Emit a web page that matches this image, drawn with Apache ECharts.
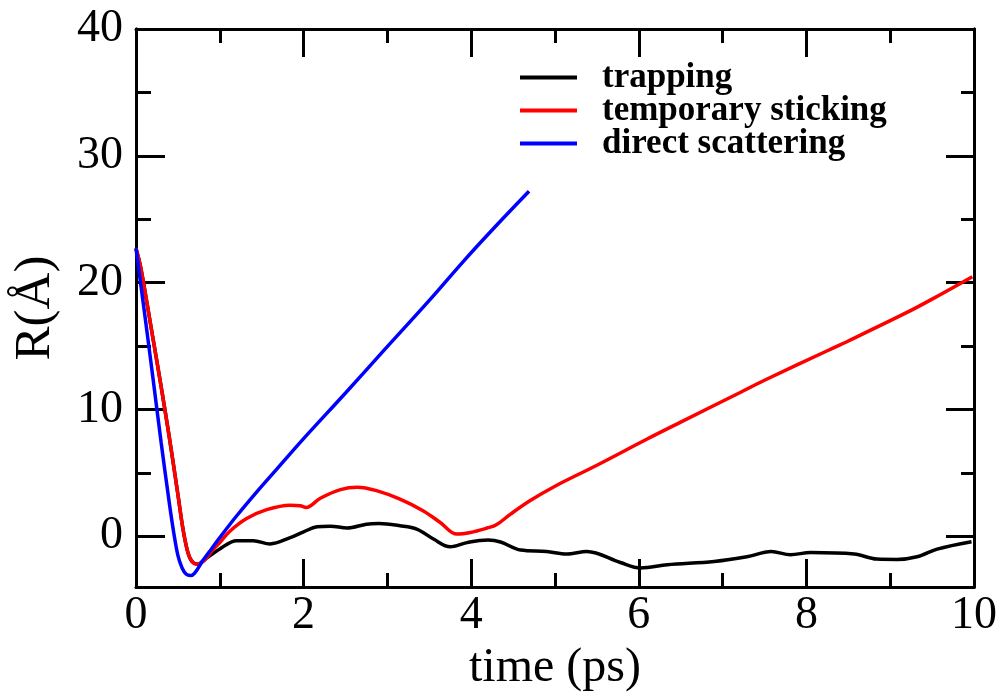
<!DOCTYPE html>
<html>
<head>
<meta charset="utf-8">
<script src="https://cdn.jsdelivr.net/npm/echarts@6/dist/echarts.min.js"></script>
<style>html,body{margin:0;padding:0;background:#fff}#c{width:1004px;height:698px}</style>
</head>
<body>
<div id="c"></div>
<script>
// ---- data (time in ps, R in Å) ----
const seriesNames = ['trapping', 'temporary sticking', 'direct scattering'];
const trapT = [0, 0.05, 0.1, 0.2, 0.3, 0.4, 0.5, 0.56, 0.62, 0.67, 0.74, 0.8, 1.0, 1.2, 1.4, 1.6, 1.84, 2.0, 2.16, 2.32, 2.52, 2.75, 2.9, 3.15, 3.35, 3.55, 3.75, 3.95, 4.2, 4.35, 4.59, 4.9, 5.14, 5.38, 5.78, 6.02, 6.34, 6.9, 7.29, 7.58, 7.81, 8.05, 8.57, 8.84, 9.08, 9.32, 9.56, 9.97];
const trapR = [22.7, 21.4, 19.6, 15.7, 11.8, 7.7, 3.3, 0.6, -1.3, -2.0, -2.2, -1.93, -1.0, -0.35, -0.35, -0.6, -0.1, 0.35, 0.75, 0.8, 0.65, 0.95, 1.0, 0.83, 0.57, -0.22, -0.83, -0.5, -0.3, -0.45, -1.09, -1.2, -1.4, -1.2, -2.07, -2.5, -2.25, -1.99, -1.62, -1.2, -1.46, -1.28, -1.4, -1.8, -1.83, -1.62, -1.01, -0.43];
const stickT = [0, 0.05, 0.1, 0.2, 0.3, 0.4, 0.5, 0.56, 0.62, 0.67, 0.72, 0.8, 0.9, 1.0, 1.12, 1.32, 1.56, 1.84, 1.96, 2.03, 2.2, 2.44, 2.64, 2.87, 3.15, 3.43, 3.63, 3.83, 3.99, 4.19, 4.3, 4.47, 4.7, 5.0, 5.5, 6.1, 6.5, 7.21, 7.5, 8.25, 8.5, 9.2, 9.5, 9.98];
const stickR = [22.7, 21.4, 19.6, 15.7, 11.8, 7.7, 3.3, 0.6, -1.3, -2.0, -2.2, -2.0, -1.2, -0.5, 0.4, 1.4, 2.1, 2.45, 2.4, 2.27, 3.0, 3.68, 3.87, 3.6, 2.93, 2.0, 1.09, 0.17, 0.3, 0.65, 0.9, 1.75, 2.8, 3.95, 5.6, 7.67, 9.0, 11.34, 12.3, 14.63, 15.4, 17.65, 18.7, 20.47];
const directT = [0, 0.1, 0.2, 0.3, 0.4, 0.45, 0.5, 0.55, 0.6, 0.65, 0.7, 0.8, 0.9, 1.0, 1.2, 1.48, 1.68, 2.0, 2.5, 2.95, 3.5, 3.91, 4.3, 4.69];
const directR = [22.7, 17.7, 12.6, 7.4, 2.5, 0.3, -1.5, -2.5, -3.0, -3.1, -2.9, -1.9, -1.0, -0.1, 1.6, 3.8, 5.3, 7.7, 11.3, 14.6, 18.6, 21.7, 24.5, 27.2];
const yMajorTicks = [0, 10, 20, 30, 40];
const yMinorTicks = [5, 15, 25, 35];

function pairs(t, r) { return t.map((v, i) => [v, r[i]]); }

const FONT = 'Liberation Serif';
const axisLineStyle = { color: '#000', width: 3 };
const tickLineStyle = { color: '#000', width: 3 };
const colors = ['#000000', '#ff0000', '#0000ff'];

const chart = echarts.init(document.getElementById('c'));
const xCommon = {
  type: 'value', min: 0, max: 10, interval: 2,
  axisLine: { show: true, lineStyle: axisLineStyle, onZero: false },
  axisTick: { show: true, inside: true, length: 28, lineStyle: tickLineStyle },
  minorTick: { show: true, splitNumber: 2, length: 14, lineStyle: tickLineStyle },
  splitLine: { show: false }, minorSplitLine: { show: false }
};
const yBase = {
  type: 'value', min: -4, max: 40,
  axisLine: { show: true, lineStyle: axisLineStyle, onZero: false },
  splitLine: { show: false }
};
chart.setOption({
  animation: false,
  backgroundColor: '#ffffff',
  grid: { left: 136, right: 30, top: 29, bottom: 111, containLabel: false },
  legend: {
    orient: 'vertical', left: 515, top: 55,
    itemWidth: 57, itemHeight: 4, itemGap: -2, icon: 'rect',
    data: seriesNames,
    textStyle: { fontFamily: FONT, fontWeight: 'bold', fontSize: 35, color: '#000', lineHeight: 31.5, padding: [0, 0, 0, 20] }
  },
  xAxis: [
    Object.assign({}, xCommon, {
      position: 'bottom',
      name: 'time (ps)', nameLocation: 'middle', nameGap: 48,
      nameTextStyle: { fontFamily: FONT, fontSize: 48, color: '#000' },
      axisLabel: { show: true, fontFamily: FONT, fontSize: 46, color: '#000', margin: 6 }
    }),
    Object.assign({}, xCommon, { position: 'top', axisLabel: { show: false } })
  ],
  yAxis: [
    Object.assign({}, yBase, {
      position: 'left',
      name: 'R(Å)', nameLocation: 'middle', nameGap: 75, nameRotate: 90,
      nameTextStyle: { fontFamily: FONT, fontSize: 51, color: '#000' },
      axisTick: { show: true, inside: true, length: 29, customValues: yMajorTicks, lineStyle: tickLineStyle },
      axisLabel: { show: true, customValues: yMajorTicks, fontFamily: FONT, fontSize: 46, color: '#000', margin: 13 }
    }),
    Object.assign({}, yBase, {
      position: 'left',
      axisTick: { show: true, inside: true, length: 15, customValues: yMinorTicks, lineStyle: tickLineStyle },
      axisLabel: { show: false, customValues: yMinorTicks }
    }),
    Object.assign({}, yBase, {
      position: 'right',
      axisTick: { show: true, inside: true, length: 28, customValues: yMajorTicks, lineStyle: tickLineStyle },
      axisLabel: { show: false, customValues: yMajorTicks }
    }),
    Object.assign({}, yBase, {
      position: 'right',
      axisTick: { show: true, inside: true, length: 13, customValues: yMinorTicks, lineStyle: tickLineStyle },
      axisLabel: { show: false, customValues: yMinorTicks }
    })
  ],
  series: [
    { name: seriesNames[0], type: 'line', data: pairs(trapT, trapR), smooth: 0.35, showSymbol: false, color: colors[0], lineStyle: { width: 3.5, color: colors[0] } },
    { name: seriesNames[1], type: 'line', data: pairs(stickT, stickR), smooth: 0.35, showSymbol: false, color: colors[1], lineStyle: { width: 3.5, color: colors[1] } },
    { name: seriesNames[2], type: 'line', data: pairs(directT, directR), smooth: 0.35, showSymbol: false, color: colors[2], lineStyle: { width: 3.5, color: colors[2] } }
  ]
});
</script>
</body>
</html>
